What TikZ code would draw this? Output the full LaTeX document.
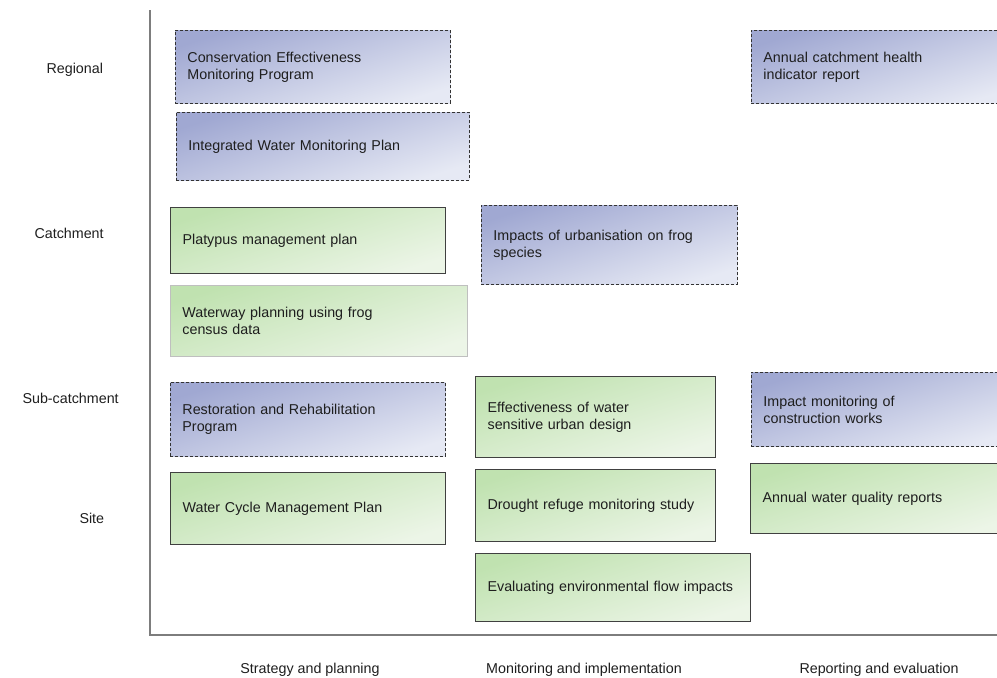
\documentclass[tikz,border=0pt]{standalone}
\usepackage{fontspec}
\setmainfont{Liberation Sans}
\usepackage{xcolor}
\usetikzlibrary{positioning}

\definecolor{bluedark}{RGB}{160,168,210}
\definecolor{bluelight}{RGB}{230,233,244}
\definecolor{greendark}{RGB}{192,226,176}
\definecolor{greenlight}{RGB}{236,245,231}
\definecolor{textgray}{RGB}{30,30,30}
\definecolor{axisgray}{RGB}{125,125,125}

\tikzset{
  task/.style={anchor=north west, align=left, inner xsep=12pt,
    inner ysep=0pt, font=\fontsize{14.3}{17}\selectfont,
    text=textgray},
  bluebox/.style={task, top color=bluedark, bottom color=bluelight,
    shading angle=18,
    draw=black!80, line width=0.9pt, dash pattern=on 3pt off 2pt},
  greenbox/.style={task, top color=greendark, bottom color=greenlight,
    shading angle=18,
    draw=black!75, line width=1.2pt},
  greenpale/.style={greenbox, draw=black!25, line width=0.8pt},
  axislabel/.style={font=\fontsize{14.3}{17}\selectfont, text=textgray}
}

\begin{document}
\begin{tikzpicture}[x=1pt, y=-1pt]

  \useasboundingbox (0,0) rectangle (997,678);

  % axes
  \coordinate (top) at (150,10);
  \coordinate (origin) at (150,635);
  \coordinate (right) at (997,635);
  \draw [axisgray, line width=1.6pt] (top) -- (origin) -- (right);

  % row labels
  \node [axislabel, anchor=west] (regional) at (43,70) {Regional};
  \node [axislabel, anchor=west] (catchment) at (31,233) {Catchment};
  \node [axislabel, anchor=west] (subcatchment) at (19,398) {Sub-catchment};
  \node [axislabel, anchor=west] (site) at (76,518) {Site};

  % column labels
  \node [axislabel] (strategy) at (310,670) {Strategy and planning};
  \node [axislabel] (monitoring) at (584,670) {Monitoring and implementation};
  \node [axislabel] (reporting) at (879,670) {Reporting and evaluation};

  % strategy and planning
  \node [bluebox, text width=251pt, minimum height=73pt] (cemp) at (175,30)
    {Conservation Effectiveness\\Monitoring Program};
  \node [bluebox, text width=269pt, minimum height=68pt] (iwmp) at (176,112)
    {Integrated Water Monitoring Plan};
  \node [greenbox, text width=251pt, minimum height=66pt] (platypus) at (170,207)
    {Platypus management plan};
  \node [greenpale, text width=273pt, minimum height=71pt] (waterway) at (170,285)
    {Waterway planning using frog\\census data};
  \node [bluebox, text width=251pt, minimum height=74pt] (restoration) at (170,382)
    {Restoration and Rehabilitation\\Program};
  \node [greenbox, text width=251pt, minimum height=72pt] (watercycle) at (170,472)
    {Water Cycle Management Plan};

  % monitoring and implementation
  \node [bluebox, text width=232pt, minimum height=79pt] (frogs) at (481,205)
    {Impacts of urbanisation on frog\\species};
  \node [greenbox, text width=216pt, minimum height=81pt] (wsud) at (475,376)
    {Effectiveness of water\\sensitive urban design};
  \node [greenbox, text width=216pt, minimum height=72pt] (drought) at (475,469)
    {Drought refuge monitoring study};
  \node [greenbox, text width=251pt, minimum height=68pt] (flows) at (475,553)
    {Evaluating environmental flow impacts};

  % reporting and evaluation
  \node [bluebox, text width=240pt, minimum height=73pt] (health) at (751,30)
    {Annual catchment health\\indicator report};
  \node [bluebox, text width=240pt, minimum height=74pt] (construction) at (751,372)
    {Impact monitoring of\\construction works};
  \node [greenbox, text width=240pt, minimum height=70pt] (quality) at (750,463)
    {Annual water quality reports};

\end{tikzpicture}
\end{document}
